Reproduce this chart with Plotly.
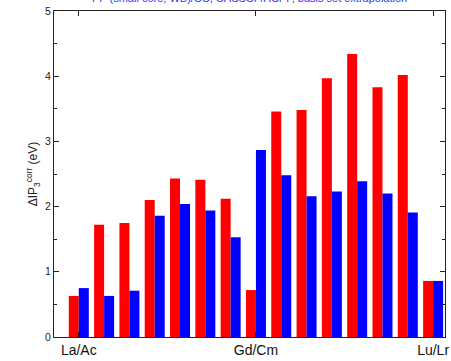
import plotly.graph_objects as go

elements = ["La", "Ce", "Pr", "Nd", "Pm", "Sm", "Eu", "Gd", "Tb", "Dy", "Ho", "Er", "Tm", "Yb", "Lu"]
lanthanide_vals = [0.63, 1.72, 1.75, 2.10, 2.43, 2.41, 2.12, 0.72, 3.46, 3.48, 3.97, 4.34, 3.83, 4.02, 0.86]
actinide_vals = [0.75, 0.63, 0.71, 1.86, 2.04, 1.94, 1.53, 2.87, 2.48, 2.16, 2.23, 2.39, 2.20, 1.91, 0.86]
tick_positions = [0, 7, 14]
tick_labels = ["La/Ac", "Gd/Cm", "Lu/Lr"]
title_text = "PP (small core, WB)/CC, CASSCF/ACPF, basis set extrapolation"

x = list(range(len(elements)))

fig = go.Figure()
fig.add_trace(go.Bar(x=x, y=lanthanide_vals, name="Ln", marker=dict(color="#ff0000", line=dict(width=0))))
fig.add_trace(go.Bar(x=x, y=actinide_vals, name="An", marker=dict(color="#0000ff", line=dict(width=0))))

fig.update_layout(
    width=451, height=361,
    margin=dict(l=54, r=6, t=11, b=24),
    barmode="group", bargap=0.21, bargroupgap=0,
    plot_bgcolor="white", paper_bgcolor="white",
    showlegend=False,
    font=dict(family="Liberation Sans, Arial, sans-serif", color="#222222"),
)
fig.update_xaxes(
    range=[-0.98, 14.47], automargin=False,
    tickmode="array", tickvals=tick_positions, ticktext=tick_labels,
    ticks="inside", ticklen=5, tickcolor="#222222",
    showline=True, linecolor="#222222", linewidth=1, mirror="ticks",
    showgrid=False, zeroline=False, ticklabeloverflow="allow",
    tickfont=dict(size=14, color="#111111"),
)
fig.update_yaxes(
    range=[0, 5], dtick=1, automargin=False,
    ticks="inside", ticklen=5, tickcolor="#222222",
    minor=dict(dtick=0.5, ticks="inside", ticklen=3, tickcolor="#222222"),
    showline=True, linecolor="#222222", linewidth=1, mirror="ticks",
    showgrid=False, zeroline=False, ticklabeloverflow="allow",
    tickfont=dict(size=10.5, color="#222222"),
    title=dict(text="ΔIP<sub>3</sub><sup>corr</sup> (eV)", font=dict(size=12, color="#222222"), standoff=4),
)
fig.add_annotation(
    text=title_text, xref="paper", yref="paper", x=0.5, y=1,
    yanchor="middle", yshift=13, showarrow=False,
    font=dict(size=11, color="#3333ff"),
)

fig.write_html("out.html", config={"displayModeBar": False},
               post_script="document.body.style.margin='0px';")
